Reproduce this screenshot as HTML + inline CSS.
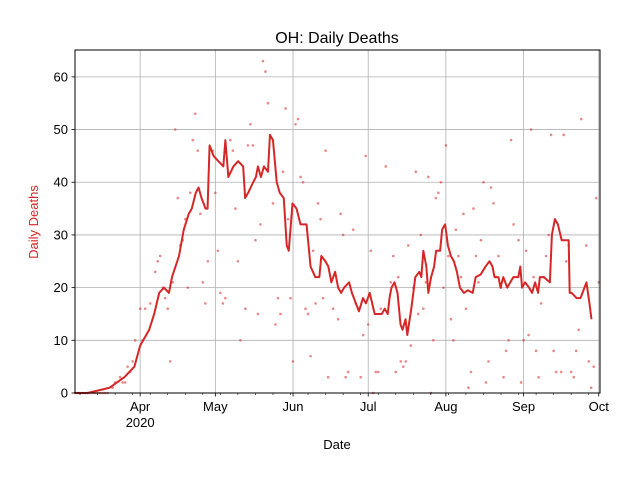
<!DOCTYPE html>
<html><head><meta charset="utf-8"><style>
html,body{margin:0;padding:0;background:#fff;}
svg{display:block;font-family:"Liberation Sans","DejaVu Sans",sans-serif;}
</style></head><body>
<svg id="chart" width="640" height="480" viewBox="0 0 640 480">
<rect x="0" y="0" width="640" height="480" fill="#fff"/>
<g id="grid"></g>
<g id="scatter"></g>
<g id="line"></g>
<rect x="75" y="50" width="525" height="343" fill="none" stroke="#000" stroke-width="1"/>
<g id="ticks"></g>
<text x="337" y="43" font-size="16" text-anchor="middle">OH: Daily Deaths</text>
<text x="337" y="449" font-size="13" text-anchor="middle">Date</text>
<text x="0" y="0" font-size="13" fill="#d62728" text-anchor="middle" transform="translate(38,222) rotate(-90)">Daily Deaths</text>
</svg>
<script>
// day index 0 = 2020-03-06
const xTickDays = [26, 56, 87, 117, 148, 179, 209];
const xTickLabels = ["Apr", "May", "Jun", "Jul", "Aug", "Sep", "Oct"];
const yTicks = [0, 10, 20, 30, 40, 50, 60];
const pointDays = [0,1,2,3,4,5,6,7,8,9,10,11,12,13,15,16,18,19,20,21,22,23,24,26,27,28,30,32,33,34,35,36,37,38,39,40,41,42,43,44,45,46,47,48,49,50,51,52,53,55,56,57,58,59,60,62,63,64,65,66,68,69,70,71,72,73,74,75,76,77,79,80,81,82,83,84,85,86,87,88,89,90,91,92,93,94,95,96,97,98,99,100,101,103,105,106,107,108,109,111,112,113,114,115,116,117,118,119,120,121,122,124,126,127,128,129,130,131,132,133,134,135,136,137,138,139,140,141,142,143,144,145,146,147,148,149,150,151,152,153,154,155,156,157,158,159,160,161,162,163,164,165,166,167,168,169,170,171,172,173,174,175,177,178,179,180,181,182,183,184,185,186,187,188,189,190,191,192,194,195,196,197,198,199,200,201,202,204,205,206,207,208,209];
const pointVals = [0,0,0,0,0,0,0,0,0,0,0,0,0,0,1,2,3,2,2,5,4,6,10,16,10,16,17,23,25,26,20,18,16,6,21,50,37,28,29,33,20,38,48,53,46,34,21,17,25,46,38,27,19,17,18,48,46,35,25,10,16,47,51,47,29,15,32,63,61,55,36,13,18,15,42,54,33,18,6,51,52,41,40,16,15,7,27,17,36,33,18,46,3,16,14,34,30,3,4,31,17,16,3,11,45,13,27,0,4,4,16,43,21,26,4,22,6,5,6,28,9,20,42,15,30,16,21,41,0,10,37,38,40,20,47,26,14,10,31,26,22,34,16,1,4,35,26,21,29,40,2,6,39,36,22,26,20,3,8,10,48,32,29,2,10,27,11,50,22,8,3,17,22,26,30,49,8,4,4,49,25,28,4,3,8,12,52,28,6,1,5,37,21,13];
const avgDays = [0,5,13.8,19.7,23.7,26,29.6,31.6,33.6,35.5,37.5,38.7,41.5,43.4,45.4,46.6,48.2,49.3,50.5,52.1,52.9,53.7,55.3,57.2,59.2,60,61.2,63.2,65.1,67.1,67.9,69.1,71.1,72.2,73,74.2,75.4,77,77.8,79,80.5,81.7,83.3,84.5,85.3,86.8,88.4,90,92.4,94,95.9,97.5,98.3,99.9,101.1,102.3,103.8,105,106.2,107.4,109.4,110.5,112.1,113.3,114.9,116.1,117.6,119.6,122.4,123.6,124.8,125.5,126.3,127.5,128.7,129.9,130.7,131.9,132.6,134.2,135.8,137.4,138.2,139,140.2,141,142.1,143.3,144.1,145.7,146.5,147.7,148.8,150,151.2,152.4,153.6,155.2,156.7,158.7,159.9,161.9,163.8,165.4,166.6,167.4,169,169.8,170.9,172.5,174.9,175.7,176.9,177.7,178.4,179.6,181.2,182.4,183.6,184.8,185.5,187.1,189.5,190.3,191.5,192.7,194.2,195,197,197.4,198.2,200.2,201.7,204.1,205.3,206.1,207.3];
const avgVals = [0,0,1,3,5,9,12,15,19,20,19,22,26,31,34,35,38,39,37,35,35,47,45,44,43,48,41,43,44,43,37,38,40,41,43,41,43,42,49,48,40,38,37,28,27,36,35,32,32,24,22,22,26,25,24,21,23,20,19,20,21,19,17,15.5,18,17,19,15,15,16,15,18,20,21,19,13,12,14,11,16,22,23,22,27,24,19,22,24,27,27,31,32,28,26,25,23,20,19,19.5,19,22,22.5,24,25,24,22,22,20,22,20,22,22,22,24,20,21,20,19,21,19,22,22,21,30,33,32,29,29,29,19,19,18,18,21,17,14];

const X0 = 75, X1 = 600, Y0 = 393, Y1 = 50;
const DMAX = 209.5, VMAX = 65.1;
const NS = "http://www.w3.org/2000/svg";
function xScale(d){ return X0 + d * (X1 - X0) / DMAX; }
function yScale(v){ return Y0 - v * (Y0 - Y1) / VMAX; }
function mk(tag, attrs, parent){ const e = document.createElementNS(NS, tag); for (const k in attrs) e.setAttribute(k, attrs[k]); parent.appendChild(e); return e; }

const grid = document.getElementById('grid');
const ticks = document.getElementById('ticks');
yTicks.forEach((v, i) => {
  const y = yScale(v);
  const g = mk('line', {x1: X0, x2: X1, y1: y, y2: y, stroke: '#b0b0b0', 'stroke-width': 0.8}, grid);
  
  
  const t = mk('line', {x1: X0 - 3.5, x2: X0, y1: y, y2: y, stroke: '#000', 'stroke-width': 0.8}, ticks);
  
  
  const l = mk('text', {x: X0 - 7, y: y + 4.5, 'font-size': 13, 'text-anchor': 'end'}, ticks);
  l.textContent = String(v);
  
  
});
xTickDays.forEach((d, i) => {
  const x = xScale(d);
  const g = mk('line', {x1: x, x2: x, y1: Y1, y2: Y0, stroke: '#b0b0b0', 'stroke-width': 0.8}, grid);
  
  
  const t = mk('line', {x1: x, x2: x, y1: Y0, y2: Y0 + 3.5, stroke: '#000', 'stroke-width': 0.8}, ticks);
  
  
  const l = mk('text', {x: x, y: Y0 + 18, 'font-size': 13, 'text-anchor': 'middle'}, ticks);
  l.textContent = xTickLabels[i];
  
  
  if (i === 0) {
    const yr = mk('text', {x: x, y: Y0 + 34, 'font-size': 13, 'text-anchor': 'middle'}, ticks);
    yr.textContent = '2020';
    
    
  }
});
for (let d = 2; d <= DMAX; d += 7) {
  const x = xScale(d);
  const t = mk('line', {x1: x, x2: x, y1: Y0, y2: Y0 + 2, stroke: '#000', 'stroke-width': 0.6}, ticks);
  
  
}

const sc = document.getElementById('scatter');
pointDays.forEach((d, i) => {
  const c = mk('circle', {cx: xScale(d), cy: yScale(pointVals[i]), r: 1.3, fill: '#d62728', 'fill-opacity': 0.55}, sc);
  
  
});

const ln = document.getElementById('line');
const pts = avgDays.map((d, i) => xScale(d).toFixed(2) + ',' + yScale(avgVals[i]).toFixed(2)).join(' ');
const pl = mk('polyline', {points: pts, fill: 'none', stroke: '#d62728', 'stroke-width': 2, 'stroke-linejoin': 'round'}, ln);


</script>
</body></html>
